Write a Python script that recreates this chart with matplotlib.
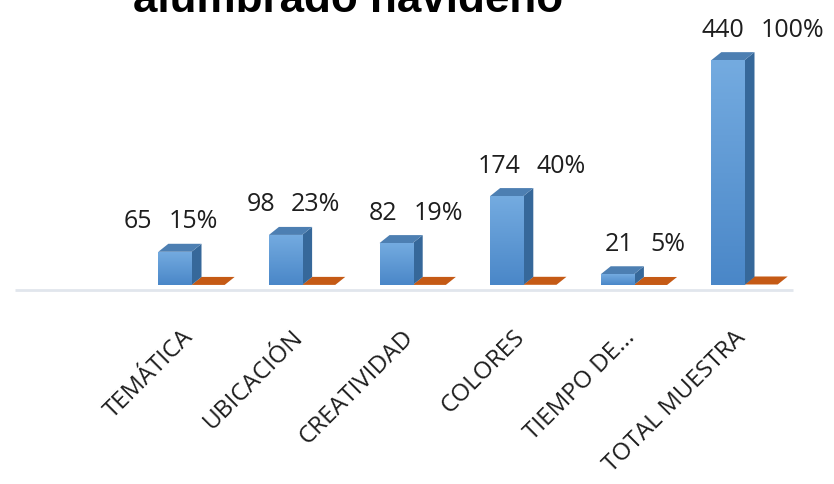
import matplotlib
matplotlib.use("Agg")
import matplotlib.pyplot as plt
import numpy as np
from matplotlib.patches import Polygon, Rectangle
from matplotlib.colors import LinearSegmentedColormap

# data
categories = ["TEMÁTICA", "UBICACIÓN", "CREATIVIDAD", "COLORES", "TIEMPO DE...", "TOTAL MUESTRA"]
counts = [65, 98, 82, 174, 21, 440]
percents = [15, 23, 19, 40, 5, 100]
title = "alumbrado navideño"

W, H = 834, 484
fig = plt.figure(figsize=(W / 100, H / 100), dpi=100)
ax = fig.add_axes([0, 0, 1, 1])
ax.set_axis_off()

# pixel geometry of the plot (category step and value scale)
x0_px, step_px = 191.5, 110.6
base_px, unit_px = 285, 0.511
ax.set_xlim(-x0_px / step_px, (W - x0_px) / step_px)
ax.set_ylim(-(H - base_px) / unit_px, base_px / unit_px)

bw = 0.3                 # bar width in category units
dx = 10 / step_px        # 3d depth
dy = 8 / unit_px

grad = LinearSegmentedColormap.from_list("g", ["#4a87c8", "#74abe0"])
side_c = "#36689a"
top_c = "#4d7fb2"
orange_top = "#c55a15"
txt_c = "#1e1e1e"

# floor line
ax.plot([(15 - x0_px) / step_px, (793 - x0_px) / step_px], [-10, -10],
        color="#e1e6ed", lw=2, solid_capstyle="butt", zorder=1)

for i, (c, p) in enumerate(zip(counts, percents)):
    # orange series (fraction, practically flat)
    h = p / 100
    ax.add_patch(Polygon([(i, h), (i + bw, h), (i + bw + dx, h + dy), (i + dx, h + dy)],
                         closed=True, fc=orange_top, ec="none", zorder=2))
    # blue series
    l, r = i - bw, i
    ax.add_patch(Polygon([(r, 0), (r + dx, dy), (r + dx, c + dy), (r, c)],
                         closed=True, fc=side_c, ec="none", zorder=3))
    ax.add_patch(Polygon([(l, c), (r, c), (r + dx, c + dy), (l + dx, c + dy)],
                         closed=True, fc=top_c, ec="none", zorder=3))
    front = Rectangle((l, 0), bw, c, fc="none", ec="none")
    ax.add_patch(front)
    im = ax.imshow(np.linspace(0, 1, 100).reshape(-1, 1), extent=[l, r, 0, c],
                   origin="lower", aspect="auto", cmap=grad, zorder=4)
    im.set_clip_path(front)

    # data labels, shifted a bit by the perspective
    shift = min(0, -39 + 12 * i) / step_px
    ly = c + 30 / unit_px
    ax.text(i + shift, ly, f"{c}", ha="right", va="center", fontsize=18,
            family="Open Sans", color=txt_c, zorder=5)
    ax.text(i + shift + 16 / step_px, ly, f"{p}%", ha="left", va="center", fontsize=18,
            family="Open Sans", color=txt_c, zorder=5)

    # category label
    ax.text(i - 0.02, -(334 - base_px) / unit_px, categories[i], rotation=45,
            rotation_mode="anchor", ha="right", va="center", fontsize=17.5,
            family="Open Sans", color=txt_c)

fig.text(348 / W, 1 - 12 / H, title, ha="center", va="baseline", fontsize=31.7,
         fontweight="bold", family="Liberation Sans", color="black")

fig.savefig("out.png", dpi=100)
